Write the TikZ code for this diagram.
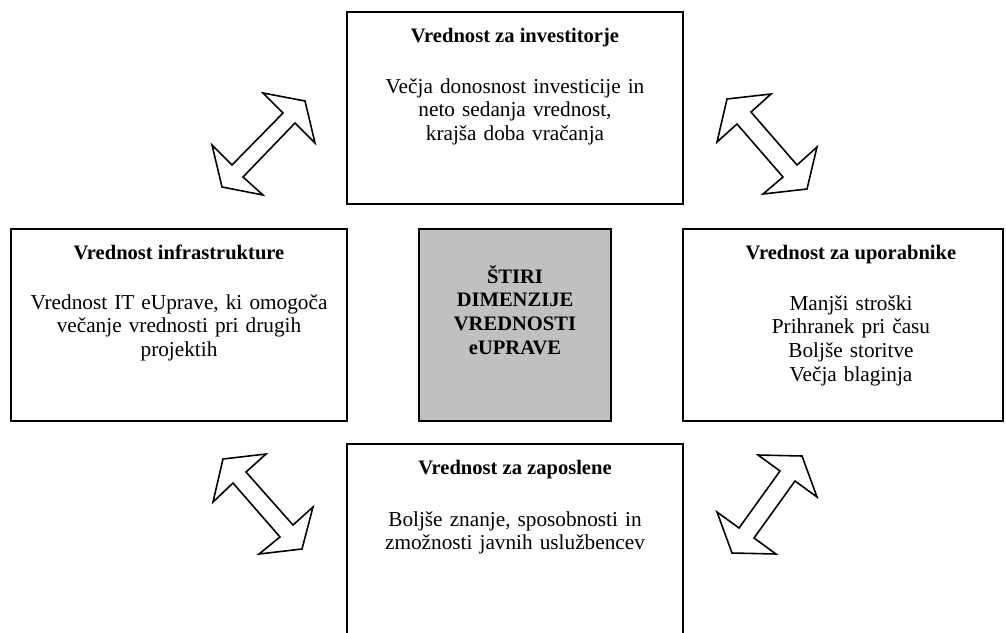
\documentclass[tikz,border=0pt]{standalone}
\usepackage{fontspec}
\setmainfont{Liberation Serif}
\usetikzlibrary{calc}
\definecolor{panelgray}{HTML}{C0C0C0}
\tikzset{
  box/.style={draw=black, line width=1pt, fill=white, inner sep=0pt,
              minimum width=6.72cm, minimum height=3.84cm},
  head/.style={font=\bfseries\fontsize{11.7}{13.5}\selectfont, anchor=base, inner sep=0pt},
  body/.style={font=\fontsize{12.1}{13.5}\selectfont, anchor=base, align=center,
               text width=6.3cm, inner sep=0pt},
  dblarrow/.style={draw=black, line width=0.9pt, fill=white, line join=miter},
}
\begin{document}
\begin{tikzpicture}[x=0.02cm,y=-0.02cm]
\useasboundingbox (0,0) rectangle (1006,632);
\clip (0,0) rectangle (1006,632);

% the four value boxes and the centre panel
\node[box] (inv) at (515,108) {};
\node[box] (inf) at (179,325) {};
\node[box, minimum width=6.40cm] (upo) at (843,325) {};
\node[box] (zap) at (515,540) {};
\node[box, fill=panelgray, minimum width=3.84cm] (core) at (515,325) {};

% box texts
\node[head] (invT) at ($(inv.north)+(0,31)$) {Vrednost za investitorje};
\node[body] (invB) at ($(invT.base)+(0,51)$)
  {Večja donosnost investicije in\\neto sedanja vrednost,\\krajša doba vračanja};

\node[head] (infT) at ($(inf.north)+(0,31)$) {Vrednost infrastrukture};
\node[body] (infB) at ($(infT.base)+(0,50)$)
  {Vrednost IT eUprave, ki omogoča\\večanje vrednosti pri drugih\\projektih};

\node[head] (upoT) at ($(upo.north)+(8,31)$) {Vrednost za uporabnike};
\node[body] (upoB) at ($(upoT.base)+(0,51)$)
  {Manjši stroški\\Prihranek pri času\\Boljše storitve\\Večja blaginja};

\node[head] (zapT) at ($(zap.north)+(0,31)$) {Vrednost za zaposlene};
\node[body] (zapB) at ($(zapT.base)+(0,52)$)
  {Boljše znanje, sposobnosti in\\zmožnosti javnih uslužbencev};

\node[body, font=\bfseries\fontsize{11.7}{13.5}\selectfont, text width=3.6cm]
  (coreT) at ($(core.north)+(0,55)$) {ŠTIRI\\DIMENZIJE\\VREDNOSTI\\eUPRAVE};

% double-headed block arrows between the boxes
\draw[dblarrow] (305,101) -- (315,143) -- (295,123) -- (243,177) -- (263,195)
  -- (222,187) -- (212,145) -- (232,165) -- (283,113) -- (263,93) -- cycle;
\draw[dblarrow] (727,99) -- (771,94) -- (751,112) -- (797,165) -- (817,147)
  -- (807,189) -- (763,194) -- (783,177) -- (737,124) -- (717,142) -- cycle;
\draw[dblarrow] (223,459) -- (266,454) -- (246,472) -- (293,525) -- (313,507)
  -- (302,549) -- (259,554) -- (280,537) -- (233,483) -- (213,502) -- cycle;
\draw[dblarrow] (802,456) -- (817,497) -- (795,481) -- (754,538) -- (776,554)
  -- (732,553) -- (717,512) -- (739,528) -- (780,471) -- (758,455) -- cycle;
\end{tikzpicture}
\end{document}
